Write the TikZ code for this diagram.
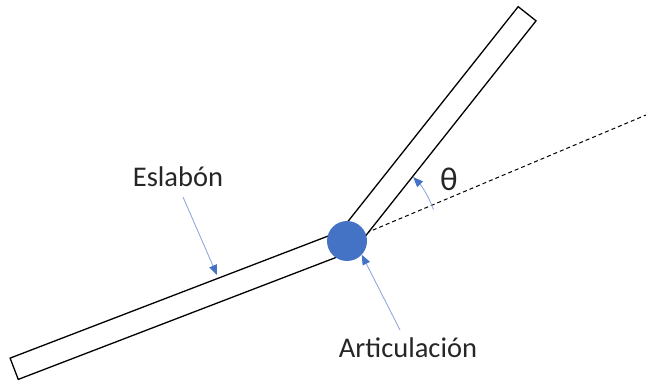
\documentclass[tikz,border=0pt]{standalone}
\usepackage{fontspec}
\setmainfont{Carlito}
\usetikzlibrary{arrows.meta}
\definecolor{jointblue}{HTML}{4472C4}
\definecolor{ptrblue}{HTML}{8FAADC}
\begin{document}
\begin{tikzpicture}[x=1pt,y=1pt,
  linkbar/.style={draw=black, line width=1.3pt, fill=white, line join=miter},
  pointer/.style={draw=ptrblue, line width=0.9pt, -{Triangle[length=10pt,width=8pt,color=jointblue,fill=jointblue]}},
  lbl/.style={font=\fontsize{28.5}{32}\selectfont, text=black!85, inner sep=0pt},
  refline/.style={draw=black, line width=1pt, dash pattern=on 4pt off 3pt}]
\useasboundingbox (0,0) rectangle (646,384);
\coordinate (J) at (347,143);
\coordinate (D) at (646,269);
% reference (dashed) line
\draw[refline] (J) -- (D);
% links
\draw[linkbar, shift={(J)}, rotate=201] (0,-11.4) rectangle (356.5,11.4);
\draw[linkbar, shift={(J)}, rotate=51.6] (0,-11.4) rectangle (290,11.4);
% joint
\node[circle, fill=jointblue, minimum size=40pt, inner sep=0pt] (Jn) at (J) {};
% labels
\node[lbl] (eslabon) at (178,207) {Eslabón};
\node[lbl] (artic) at (408,36.5) {Articulación};
\node[lbl, font=\fontsize{33}{36}\selectfont] (theta) at (449,205) {θ};
% pointers
\coordinate (eslStart) at (183,187);
\coordinate (eslTip) at (217,109);
\coordinate (artStart) at (400,54);
\draw[pointer] (eslStart) -- (eslTip);
\draw[pointer] (artStart) -- (Jn.-43);
% angle arc
\draw[pointer] ([shift={(20:92)}]J) arc[start angle=20, end angle=44, radius=92];
\end{tikzpicture}
\end{document}
